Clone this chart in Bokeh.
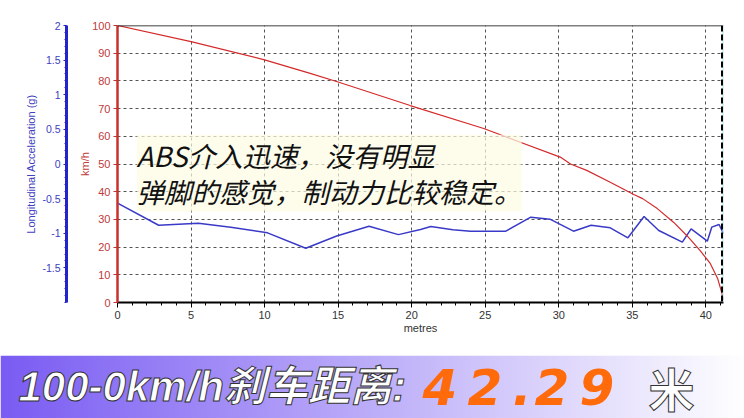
import numpy as np
from bokeh.plotting import figure
from bokeh.models import (Range1d, LinearAxis, FixedTicker, SingleIntervalTicker,
                          CustomJSTickFormatter, Span, Label)
from bokeh.core.properties import value
from bokeh.layouts import column
from bokeh.embed import file_html
from bokeh.resources import INLINE

# ---------------- data ----------------
dist_speed = [0, 5, 10, 13.1, 15.0, 19.9, 24.9, 26.7, 30.1, 30.8, 31.9, 33.5, 35.1,
              35.7, 36.7, 37.8, 38.7, 39.6, 40.3, 40.8, 41.1, 41.2]
speed = [100, 94.2, 87.6, 82.7, 79.6, 71.1, 62.8, 59.2, 52.5, 50.0, 47.7, 43.4, 39.0,
         37.5, 33.9, 29.0, 24.2, 18.8, 14.1, 8.7, 3.2, 1.0]

dist_acc = [0.0, 2.8, 5.5, 7.7, 10.2, 12.8, 14.9, 17.1, 19.1, 20.6, 21.3, 22.8, 24.0,
            26.4, 28.1, 29.4, 31.0, 32.2, 33.5, 34.7, 35.8, 36.8, 38.4, 39.0, 40.1,
            40.4, 40.9, 41.2]
acc = [-0.566, -0.884, -0.855, -0.912, -0.994, -1.216, -1.04, -0.898, -1.02, -0.946,
       -0.903, -0.95, -0.97, -0.97, -0.768, -0.797, -0.97, -0.884, -0.922, -1.066,
       -0.758, -0.96, -1.129, -0.936, -1.115, -0.912, -0.873, -1.008]

acc_ticks = [-1.5, -1, -0.5, 0, 0.5, 1, 1.5, 2]
stop_marker = 41.1
x_max = 41.2

note_text = "ABS介入迅速，没有明显\n弹脚的感觉，制动力比较稳定。"
banner_part1 = "100-0km/h刹车距离:"
banner_value = "42.29"
banner_unit = "米"

# ---------------- chart ----------------
FONT = "Liberation Sans"
p = figure(width=744, height=355, x_range=Range1d(0, x_max), y_range=Range1d(0, 100),
           output_backend="svg", toolbar_location=None,
           min_border_left=117, min_border_right=21, min_border_top=25, min_border_bottom=53)
p.frame_align = False
p.outline_line_color = None
p.background_fill_color = "white"
p.border_fill_color = "white"
p.extra_y_ranges = {"acc": Range1d(-2, 2)}

# grids
for g in (p.xgrid[0], p.ygrid[0]):
    g.grid_line_color = "#555555"
    g.grid_line_dash = "3 3"
    g.grid_line_width = 1

# x axis
xa = p.xaxis[0]
xa.ticker = SingleIntervalTicker(interval=5, num_minor_ticks=5)
xa.axis_line_color = "black"
xa.axis_line_width = 2
xa.major_tick_line_color = "black"
xa.minor_tick_line_color = "black"
xa.major_tick_out = 5
xa.major_tick_in = 0
xa.minor_tick_out = 3
xa.minor_tick_in = 0
xa.major_label_text_font = FONT
xa.major_label_text_font_size = "11px"
xa.major_label_text_color = "#333333"
xa.major_label_standoff = 3
xa.axis_label = "metres"
xa.axis_label_text_font = FONT
xa.axis_label_text_font_size = "11px"
xa.axis_label_text_font_style = "normal"
xa.axis_label_text_color = "#333333"
xa.axis_label_standoff = 0

# red (speed) axis
ya = p.yaxis[0]
ya.ticker = SingleIntervalTicker(interval=10, num_minor_ticks=0)
RED = "#c8302e"
ya.axis_line_color = RED
ya.axis_line_width = 2.5
ya.major_tick_line_color = RED
ya.major_tick_out = 4
ya.major_tick_in = 0
ya.minor_tick_line_color = None
ya.major_label_text_font = FONT
ya.major_label_text_font_size = "11px"
ya.major_label_text_color = "#c03a3a"
ya.major_label_standoff = 3
ya.axis_label = "\nkm/h"
ya.axis_label_text_font = FONT
ya.axis_label_text_font_size = "11px"
ya.axis_label_text_font_style = "normal"
ya.axis_label_text_color = "#c03a3a"
ya.axis_label_text_line_height = 0.8
ya.axis_label_standoff = -2

# blue (acceleration) axis
BLUE = "#2424cc"
ba = LinearAxis(y_range_name="acc")
ba.ticker = FixedTicker(ticks=acc_ticks,
                        minor_ticks=np.round(np.arange(-2, 2.001, 0.1), 2).tolist())
ba.formatter = CustomJSTickFormatter(code="return String(tick)")
ba.axis_line_color = BLUE
ba.axis_line_width = 3
ba.major_tick_line_color = BLUE
ba.minor_tick_line_color = BLUE
ba.major_tick_out = 3
ba.major_tick_in = 0
ba.minor_tick_out = 2
ba.minor_tick_in = 0
ba.major_label_text_font = FONT
ba.major_label_text_font_size = "10.5px"
ba.major_label_text_color = "#4040c0"
ba.major_label_standoff = 3
ba.axis_label = "Longitudinal Acceleration (g)"
ba.axis_label_text_font = FONT
ba.axis_label_text_font_size = "11px"
ba.axis_label_text_font_style = "normal"
ba.axis_label_text_color = "#4040c0"
ba.axis_label_standoff = 2
p.add_layout(ba, "left")

# frame decorations
p.add_layout(Span(location=100, dimension="width", line_color="black", line_width=1.5))
p.add_layout(Span(location=x_max, dimension="height", line_color="#a8ecf0", line_width=2))
p.add_layout(Span(location=stop_marker, dimension="height", line_color="black",
                  line_width=2, line_dash="6 3"))

# series
p.line(dist_acc, acc, color="#3a3ac8", line_width=1.5, y_range_name="acc")
p.line(dist_speed, speed, color="#d42a2a", line_width=1.2)

# annotation
p.add_layout(Label(x=1.3, y=60.6, text=note_text, text_font="Noto Sans CJK SC",
                   text_font_size="27.5px", text_font_style="italic", text_color="#111111",
                   text_baseline="top", text_align="left", text_line_height=0.92,
                   background_fill_color="#fdfce4", background_fill_alpha=0.7))

# ---------------- banner ----------------
BW, BH = 744, 63
b = figure(width=BW, height=BH, x_range=Range1d(0, BW), y_range=Range1d(0, BH),
           output_backend="svg", toolbar_location=None,
           x_axis_location=None, y_axis_location=None, min_border=0)
b.frame_align = False
b.xgrid.visible = False
b.ygrid.visible = False
b.outline_line_color = None
b.background_fill_color = "white"
b.border_fill_color = "white"

t = np.linspace(0, 1, BW)
left = np.array([122, 92, 243])
right = np.array([255, 255, 255])
cols = (left[None, :] * (1 - t[:, None]) + right[None, :] * t[:, None]).astype(np.uint32)
img = np.empty((1, BW), dtype=np.uint32)
view = img.view(dtype=np.uint8).reshape((1, BW, 4))
view[0, :, 0] = cols[:, 0]
view[0, :, 1] = cols[:, 1]
view[0, :, 2] = cols[:, 2]
view[0, :, 3] = 255
b.image_rgba(image=[img], x=0, y=0, dw=BW, dh=BH)

ymid = 32
b.add_layout(Label(x=18, y=ymid, text=banner_part1, text_font="Liberation Sans, Noto Sans CJK SC",
                   text_font_size="42px", text_font_style="bold italic", text_color="white",
                   text_outline_color="#333333", text_baseline="middle", text_align="left"))
# value drawn with wide letter spacing like the reference display font
adv = [0, 45, 90, 112, 157]
b.text(x=[422 + a for a in adv], y=[ymid] * len(banner_value), text=list(banner_value),
       text_font=value("DejaVu Sans"), text_font_size=value("50px"),
       text_font_style="bold italic", text_color="#ff6a0a",
       text_baseline="middle", text_align="left")
b.add_layout(Label(x=648, y=ymid, text=banner_unit, text_font="Noto Sans CJK SC",
                   text_font_size="46px", text_font_style="bold", text_color="white",
                   text_outline_color="#333333", text_baseline="middle", text_align="left"))

layout = column(p, b, spacing=0)
open("out.html", "w").write(file_html(layout, INLINE))
